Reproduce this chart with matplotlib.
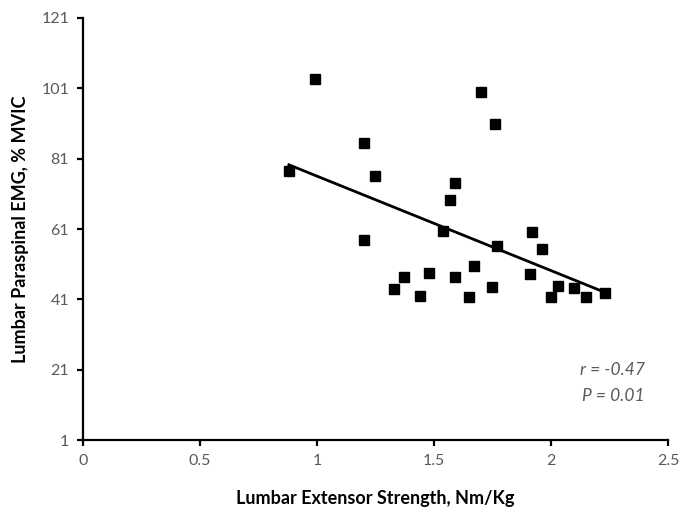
import matplotlib
matplotlib.use('Agg')
import matplotlib.pyplot as plt
import numpy as np

plt.rcParams['font.family'] = ['Lato', 'DejaVu Sans']

# lumbar extensor strength (Nm/Kg) vs paraspinal EMG (% MVIC)
strength = [0.88, 0.99, 1.20, 1.25, 1.20, 1.33, 1.37, 1.44, 1.48, 1.54, 1.57, 1.59, 1.59,
            1.65, 1.67, 1.70, 1.75, 1.76, 1.77, 1.91, 1.92, 1.96, 2.00, 2.03, 2.10, 2.15, 2.23]
emg = [77.5, 103.6, 85.4, 76.1, 57.9, 43.9, 47.3, 42.0, 48.5, 60.4, 69.2, 74.1, 47.3,
       41.7, 50.5, 99.9, 44.5, 90.8, 56.2, 48.2, 60.1, 55.3, 41.7, 44.8, 44.2, 41.7, 42.8]
x_ticks = [0, 0.5, 1, 1.5, 2, 2.5]
y_ticks = [1, 21, 41, 61, 81, 101, 121]

fig = plt.figure(figsize=(6.79, 5.2), dpi=100)
ax = fig.add_axes([0.1222, 0.1538, 0.8616, 0.8116])

ax.plot(strength, emg, 's', color='black', markersize=7.2, clip_on=False)

# linear trendline
slope, icpt = np.polyfit(strength, emg, 1)
xs = np.array([min(strength), max(strength)])
ax.plot(xs, slope * xs + icpt, color='black', linewidth=2)

ax.set_xlim(0, 2.5)
ax.set_ylim(1, 121)
ax.set_xticks(x_ticks)
ax.set_xticklabels(['0', '0.5', '1', '1.5', '2', '2.5'])
ax.set_yticks(y_ticks)

for s in ['top', 'right']:
    ax.spines[s].set_visible(False)
for s in ['left', 'bottom']:
    ax.spines[s].set_linewidth(1.6)
ax.tick_params(direction='out', length=4, width=1.6, colors='black',
               labelcolor='#595959', labelsize=11.5, pad=6)

ax.set_xlabel('Lumbar Extensor Strength, Nm/Kg', fontsize=13, fontweight='bold', labelpad=16)
ax.set_ylabel('Lumbar Paraspinal EMG, % MVIC', fontsize=13, fontweight='bold', labelpad=9)

ax.text(2.40, 21, 'r = -0.47', ha='right', va='center', fontsize=12.5,
        style='italic', color='#595959')
ax.text(2.40, 13.5, 'P = 0.01', ha='right', va='center', fontsize=12.5,
        style='italic', color='#595959')

fig.savefig('out.png', dpi=100)
